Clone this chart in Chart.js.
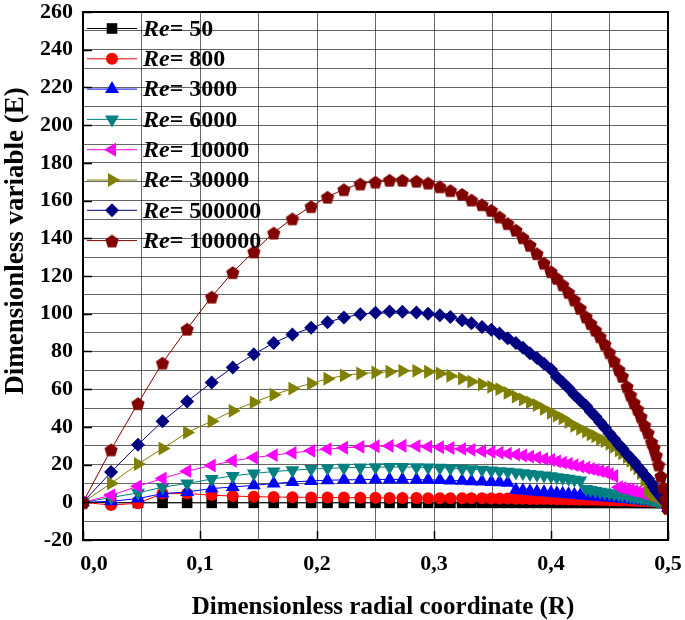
<!DOCTYPE html>
<html lang="es">
<head>
<meta charset="utf-8">
<title>Dimensionless variable (E)</title>
<script src="https://cdn.jsdelivr.net/npm/chart.js@4.4.1/dist/chart.umd.min.js"></script>
<style>
    html, body { margin: 0; padding: 0; background: #fff; }
    canvas { display: block; }
</style>
</head>
<body>
<canvas id="grafico" width="685" height="620"></canvas>
<script>
// Coordenada radial adimensional (eje X), compartida por todas las series.
const RADIO = [0, 0.024, 0.047, 0.068, 0.089, 0.110, 0.128, 0.146, 0.163, 0.179,
    0.195, 0.209, 0.223, 0.237, 0.250, 0.262, 0.273, 0.285, 0.295, 0.305,
    0.314, 0.324, 0.332, 0.341, 0.349, 0.356, 0.363, 0.370, 0.376, 0.382,
    0.388, 0.394, 0.400, 0.405, 0.410, 0.415, 0.420, 0.425, 0.430, 0.434,
    0.438, 0.442, 0.446, 0.450, 0.454, 0.458, 0.461, 0.465, 0.468, 0.471,
    0.474, 0.477, 0.480, 0.483, 0.486, 0.488, 0.490, 0.492, 0.494, 0.496,
    0.498, 0.500];

// Valores de la variable adimensional (E) para cada número de Reynolds.
const RE_50 = [0, -0.3, -0.3, -0.3, -0.3, -0.3, -0.3, -0.3, -0.3, -0.3,
    -0.3, -0.3, -0.3, -0.3, -0.3, -0.3, -0.3, -0.3, -0.3, -0.3,
    -0.3, -0.3, -0.3, -0.3, -0.3, -0.3, -0.3, -0.3, -0.3, -0.3,
    -0.3, -0.3, -0.3, -0.3, -0.3, -0.3, -0.3, -0.3, -0.3, -0.3,
    -0.3, -0.3, -0.3, -0.3, -0.3, -0.3, -0.3, -0.3, -0.3, -0.3,
    -0.3, -0.3, -0.3, -0.3, -0.3, -0.3, -0.3, -0.3, -0.3, -0.3,
    -0.3, -3];
const RE_800 = [0, -1.5, -0.5, 4.6, 4.6, 3.8, 3.3, 3, 2.8, 2.7,
    2.6, 2.5, 2.5, 2.4, 2.4, 2.3, 2.3, 2.3, 2.2, 2.2,
    2.2, 2.1, 2.1, 2.1, 2, 2, 2, 1.9, 1.9, 1.8,
    1.8, 1.7, 1.7, 1.6, 1.6, 1.5, 1.5, 1.4, 1.4, 1.3,
    1.3, 1.2, 1.2, 1.1, 1.1, 1, 1, 0.9, 0.9, 0.8,
    0.8, 0.7, 0.7, 0.6, 0.5, 0.5, 0.4, 0.3, 0.3, 0.2,
    0.1, -3];
const RE_3000 = [0, 0.5, 2, 4.6, 5.5, 7.3, 8.1, 9, 9.9, 10.8,
    11.3, 11.7, 11.9, 12, 12.1, 12.1, 12.1, 12, 11.9, 11.8,
    11.6, 11.4, 11.2, 11, 10.8, 10.6, 10.4, 6.5, 6.2, 5.9,
    5.6, 5.3, 5, 4.8, 4.5, 4.2, 4, 3.7, 3.5, 3.3,
    3.1, 2.9, 2.7, 2.5, 2.3, 2.1, 1.9, 1.7, 1.5, 1.3,
    1.2, 1, 0.9, 0.8, 0.7, 0.6, 0.5, 0.4, 0.3, 0.2,
    0.1, -3];
const RE_6000 = [0, 2.5, 5, 8, 10, 12.3, 14, 15.3, 16.3, 17,
    17.6, 18, 18.3, 18.5, 18.6, 18.7, 18.7, 18.6, 18.5, 18.3,
    18.1, 17.8, 17.5, 17.2, 16.9, 16.5, 16.2, 15.8, 15.4, 15,
    14.6, 14.2, 13.8, 13.3, 12.9, 12.5, 12, 11.5, 7, 6.5,
    6, 5.6, 5.2, 4.8, 4.4, 4, 3.7, 3.4, 3.1, 2.8,
    2.5, 2.2, 2, 1.7, 1.4, 1.2, 1, 0.8, 0.6, 0.4,
    0.2, -3];
const RE_10000 = [0, 3.7, 8.5, 12.6, 16.5, 19.5, 22, 23.7, 25, 26.2,
    27.3, 28.2, 28.9, 29.4, 29.7, 29.9, 30, 29.8, 29.5, 29.2,
    28.8, 28.3, 27.8, 27.2, 26.7, 26.3, 25.8, 25.3, 24.8, 24.2,
    23.7, 23, 22.4, 21.7, 21, 20.4, 19.7, 19, 18.3, 17.7,
    17.2, 16.6, 16, 15, 14, 8, 7.5, 7, 6.5, 6,
    5.5, 5, 4.5, 4, 3.5, 3, 2.5, 2, 1.5, 1,
    0, -3];
const RE_30000 = [0, 10, 20.3, 28.5, 37, 43, 48.5, 53, 57, 60.3,
    63, 65.5, 67.3, 68.3, 68.8, 69.2, 69.7, 69.7, 69.2, 68.3,
    67, 65.6, 64, 62.6, 61.2, 60, 58, 56, 54.5, 53,
    51.5, 49.5, 47.5, 46, 44.5, 42.5, 40.5, 39, 37.5, 36,
    35, 33.5, 32.5, 31, 29.5, 27.5, 26, 24, 22, 20,
    18, 15.5, 11.5, 6, 5, 4, 3.5, 3, 2, 1,
    0, -3];
const RE_500000 = [0, 16, 30.5, 43, 53.5, 63.5, 71.5, 78.5, 84.5, 89,
    92.5, 95.5, 98, 99.7, 100.5, 101.2, 101, 100.6, 100, 99.2,
    98.2, 96.6, 95, 93, 91.5, 89.5, 87, 84.5, 82, 79,
    76.5, 73.5, 70.5, 66.5, 63.5, 60.5, 57, 54, 51, 48,
    45.5, 42.5, 39.5, 36.5, 33.5, 30.5, 28.5, 25.5, 23.5, 21.5,
    19, 17, 14.5, 12.5, 10, 8, 6, 4.5, 3, 1.5,
    0, -3];
const RE_100000 = [0, 28, 52.5, 74, 92, 109, 122, 133, 143, 150.5,
    157, 162, 166, 169, 170, 171, 171, 170.5, 169.5, 167.5,
    165.5, 163.5, 160.5, 158, 155, 151.5, 148, 144.5, 140.5, 136.5,
    132, 127, 122.5, 119, 115.5, 111.5, 107.5, 103, 98.5, 95,
    91.5, 88, 84, 79.5, 75, 70.5, 67, 61.5, 57, 53,
    49.5, 45.5, 41, 37, 32, 29, 25, 20, 14, 8,
    2, -3];

// Etiquetas de la leyenda (texto después de "Re").
const ETIQUETAS = ['= 50', '= 800', '= 3000', '= 6000', '= 10000', '= 30000', '= 500000', '= 100000'];
const SERIES = [RE_50, RE_800, RE_3000, RE_6000, RE_10000, RE_30000, RE_500000, RE_100000];

// Textos de los ejes.
const TITULO_X = 'Dimensionless radial coordinate (R)';
const TITULO_Y = 'Dimensionless variable (E)';

const FUENTE = '"Liberation Serif", "Times New Roman", serif';

/*
*   Función para crear un pentágono como estilo de punto (Chart.js no lo trae).
*   Parámetros: color (relleno) y radio (en píxeles).
*   Retorno: canvas con el pentágono dibujado.
*/
const crearPentagono = (color, radio) => {
    const lado = Math.ceil(radio * 2 + 2);
    const lienzo = document.createElement('canvas');
    lienzo.width = lado;
    lienzo.height = lado;
    const g = lienzo.getContext('2d');
    g.beginPath();
    for (let i = 0; i < 5; i++) {
        const a = -Math.PI / 2 + i * 2 * Math.PI / 5;
        const px = lado / 2 + radio * Math.cos(a);
        const py = lado / 2 + 1 + radio * Math.sin(a);
        if (i === 0) g.moveTo(px, py); else g.lineTo(px, py);
    }
    g.closePath();
    g.fillStyle = color;
    g.fill();
    return lienzo;
};

// Estilo de cada serie: color, forma del marcador, rotación y radio.
const ESTILOS = [
    { color: '#000000', forma: 'rect', giro: 0, radio: 7.5 },
    { color: '#FF0000', forma: 'circle', giro: 0, radio: 6 },
    { color: '#0000FF', forma: 'triangle', giro: 0, radio: 8 },
    { color: '#008080', forma: 'triangle', giro: 180, radio: 8 },
    { color: '#FF00FF', forma: 'triangle', giro: -90, radio: 8 },
    { color: '#808000', forma: 'triangle', giro: 90, radio: 8 },
    { color: '#000080', forma: 'rectRot', giro: 0, radio: 7 },
    { color: '#800000', forma: crearPentagono('#800000', 7), giro: 0, radio: 7 }
];

// Se arman los conjuntos de datos a partir de los arreglos.
const conjuntos = SERIES.map((valores, i) => ({
    label: 'Re' + ETIQUETAS[i],
    data: RADIO.map((r, j) => ({ x: r, y: valores[j] })),
    borderColor: ESTILOS[i].color,
    backgroundColor: ESTILOS[i].color,
    borderWidth: 1,
    pointStyle: ESTILOS[i].forma,
    pointRotation: ESTILOS[i].giro,
    pointRadius: ESTILOS[i].radio,
    pointHoverRadius: ESTILOS[i].radio,
    pointBorderWidth: 0,
    pointBackgroundColor: ESTILOS[i].color,
    tension: 0,
    order: SERIES.length - i   // Las últimas series quedan encima.
}));

// Plugin propio: marco, marcas interiores, leyenda y títulos de ejes.
const decoracion = {
    id: 'decoracion',
    afterDraw(chart) {
        const ctx = chart.ctx;
        const area = chart.chartArea;
        const ejeX = chart.scales.x;
        const ejeY = chart.scales.y;
        ctx.save();

        // Marcas hacia dentro en el eje Y (cada 20) y en el eje X (cada 0,1).
        ctx.strokeStyle = '#000';
        ctx.lineWidth = 1.5;
        ctx.beginPath();
        for (let v = -20; v <= 260; v += 20) {
            const py = Math.round(ejeY.getPixelForValue(v)) + 0.5;
            ctx.moveTo(area.left, py);
            ctx.lineTo(area.left + 9, py);
        }
        for (let k = 0; k <= 5; k++) {
            const px = Math.round(ejeX.getPixelForValue(k / 10)) + 0.5;
            ctx.moveTo(px, area.bottom);
            ctx.lineTo(px, area.bottom - 9);
        }
        ctx.stroke();

        // Marco del área de trazado.
        ctx.lineWidth = 2;
        ctx.strokeRect(area.left, area.top, area.right - area.left, area.bottom - area.top);

        // Leyenda dentro del gráfico, arriba a la izquierda.
        chart.data.datasets.forEach((ds, i) => {
            const fy = 28.5 + i * 30.3;
            ctx.strokeStyle = ds.borderColor;
            ctx.fillStyle = ds.borderColor;
            ctx.lineWidth = 1;
            ctx.beginPath();
            ctx.moveTo(87, fy);
            ctx.lineTo(137, fy);
            ctx.stroke();
            Chart.helpers.drawPoint(ctx, {
                pointStyle: ds.pointStyle,
                rotation: ds.pointRotation,
                radius: ds.pointRadius,
                borderWidth: 0
            }, 112, fy);

            ctx.fillStyle = '#000';
            ctx.textBaseline = 'middle';
            ctx.textAlign = 'left';
            ctx.font = 'italic bold 24px ' + FUENTE;
            ctx.fillText('Re', 143, fy + 1);
            const ancho = ctx.measureText('Re').width;
            ctx.font = 'bold 24px ' + FUENTE;
            ctx.fillText(ETIQUETAS[i], 143 + ancho, fy + 1);
        });

        // Títulos de los ejes.
        ctx.fillStyle = '#000';
        ctx.textAlign = 'center';
        ctx.textBaseline = 'middle';
        ctx.font = 'bold 25px ' + FUENTE;
        ctx.fillText(TITULO_X, 383, 608);
        ctx.font = 'bold 27px ' + FUENTE;
        ctx.translate(16, 241);
        ctx.rotate(-Math.PI / 2);
        ctx.fillText(TITULO_Y, 0, 0);
        ctx.restore();
    }
};

// Se anula el relleno automático que los ejes piden para sus etiquetas.
const sinRelleno = (eje) => {
    eje.paddingLeft = 0;
    eje.paddingRight = 0;
    eje.paddingTop = 0;
    eje.paddingBottom = 0;
};

// Formato de las etiquetas del eje X: coma decimal y solo cada 0,1.
// La primera lleva espacios delante para correrla a la derecha, como en el original.
const etiquetaX = (v) => {
    if (Math.round(v * 100) % 10 !== 0) return '';
    const texto = v.toFixed(1).replace('.', ',');
    return v === 0 ? '    ' + texto : texto;
};

// Fuente común de las etiquetas de los ejes.
const fuenteTicks = { family: FUENTE, size: 22, weight: 'bold', lineHeight: 1 };

new Chart(document.getElementById('grafico'), {
    type: 'line',
    data: { datasets: conjuntos },
    options: {
        responsive: false,
        animation: false,
        devicePixelRatio: 1,
        layout: { autoPadding: false, padding: { top: 12, right: 17, left: 0, bottom: 0 } },
        plugins: {
            legend: { display: false },
            tooltip: { enabled: false }
        },
        scales: {
            x: {
                type: 'linear',
                min: 0,
                max: 0.5,
                afterFit: (eje) => { eje.height = 80; sinRelleno(eje); },
                ticks: {
                    stepSize: 0.05,
                    autoSkip: false,
                    maxRotation: 0,
                    padding: 13,
                    color: '#000',
                    font: fuenteTicks,
                    callback: etiquetaX
                },
                grid: { color: 'rgba(0,0,0,0.6)', lineWidth: 1, drawTicks: false },
                border: { display: false }
            },
            y: {
                min: -20,
                max: 260,
                afterFit: (eje) => { eje.width = 83; sinRelleno(eje); },
                ticks: {
                    stepSize: 10,
                    autoSkip: false,
                    padding: 10,
                    color: '#000',
                    font: fuenteTicks,
                    callback: (v) => v % 20 === 0 ? v : ''
                },
                grid: { color: 'rgba(0,0,0,0.6)', lineWidth: 1, drawTicks: false },
                border: { display: false }
            }
        }
    },
    plugins: [decoracion]
});
</script>
</body>
</html>
